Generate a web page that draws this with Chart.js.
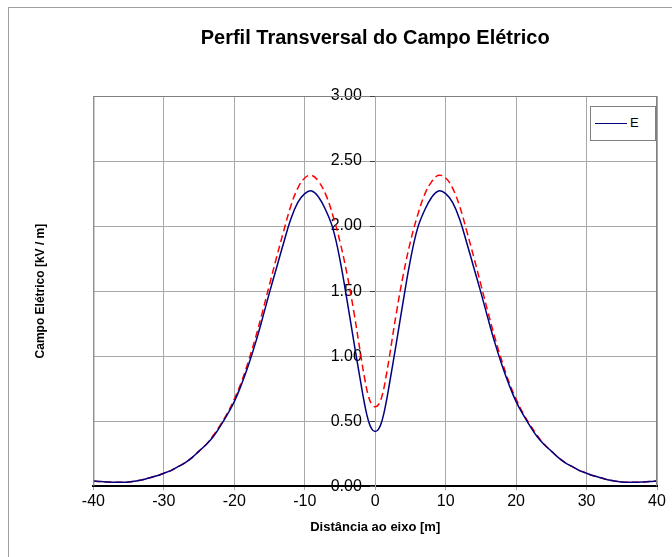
<!DOCTYPE html>
<html>
<head>
<meta charset="utf-8">
<script src="https://cdn.jsdelivr.net/npm/chart.js@4.4.0/dist/chart.umd.min.js"></script>
<style>
  html, body { margin: 0; padding: 0; background: #fff; }
  #wrap { width: 672px; height: 557px; position: relative; }
  #legend {
    position: absolute; left: 590px; top: 106px; width: 64px; height: 33px;
    border: 1px solid #808080; background: #fff;
    font: 13px 'Liberation Sans', Arial, sans-serif; color: #000;
  }
  #legend .swatch { position: absolute; left: 4px; top: 16px; width: 32px; height: 0; border-top: 1px solid #000080; }
  #legend .txt { position: absolute; left: 39px; top: 8px; }
</style>
</head>
<body>
<div id="wrap">
  <canvas id="chart"></canvas>
  <div id="legend"><span class="swatch"></span><span class="txt">E</span></div>
</div>
<script>
// Distance from the axis [m]
const distances = [
  -40, -39, -38, -37, -36, -35, -34, -33, -32, -31, -30, -29, -28, -27, -26, -25, -24, -23, -22, -21,
  -20, -19, -18, -17, -16, -15, -14, -13, -12, -11, -10, -9, -8, -7, -6, -5, -4, -3, -2,
  -1.5, -1, -0.5, 0, 0.5, 1, 1.5,
  2, 3, 4, 5, 6, 7, 8, 9, 10, 11, 12, 13, 14, 15, 16, 17, 18, 19, 20,
  21, 22, 23, 24, 25, 26, 27, 28, 29, 30, 31, 32, 33, 34, 35, 36, 37, 38, 39, 40
];

// Series E (solid blue) [kV/m]
const fieldE = [
  0.040, 0.037, 0.033, 0.030, 0.030, 0.032, 0.040, 0.050, 0.065, 0.080, 0.100, 0.120, 0.150, 0.180, 0.220, 0.270, 0.320, 0.380, 0.460, 0.550,
  0.650, 0.780, 0.930, 1.100, 1.290, 1.490, 1.680, 1.870, 2.050, 2.180, 2.250, 2.270, 2.220, 2.120, 1.980, 1.740, 1.430, 1.100, 0.780,
  0.630, 0.510, 0.440, 0.420, 0.440, 0.510, 0.630,
  0.780, 1.100, 1.430, 1.740, 1.980, 2.120, 2.220, 2.270, 2.250, 2.180, 2.050, 1.870, 1.680, 1.490, 1.290, 1.100, 0.930, 0.780, 0.650,
  0.550, 0.460, 0.380, 0.320, 0.270, 0.220, 0.180, 0.150, 0.120, 0.100, 0.080, 0.065, 0.050, 0.040, 0.032, 0.030, 0.030, 0.033, 0.037, 0.040
];

// Second profile (dashed red) [kV/m]
const fieldRed = [
  0.040, 0.037, 0.033, 0.030, 0.030, 0.032, 0.040, 0.050, 0.065, 0.080, 0.100, 0.120, 0.150, 0.180, 0.220, 0.270, 0.320, 0.390, 0.470, 0.560,
  0.670, 0.800, 0.960, 1.140, 1.340, 1.550, 1.760, 1.960, 2.150, 2.290, 2.370, 2.390, 2.340, 2.240, 2.080, 1.880, 1.630, 1.330, 0.990,
  0.830, 0.700, 0.630, 0.610, 0.630, 0.700, 0.830,
  0.990, 1.330, 1.630, 1.880, 2.080, 2.240, 2.340, 2.390, 2.370, 2.290, 2.150, 1.960, 1.760, 1.550, 1.340, 1.140, 0.960, 0.800, 0.670,
  0.560, 0.470, 0.390, 0.320, 0.270, 0.220, 0.180, 0.150, 0.120, 0.100, 0.080, 0.065, 0.050, 0.040, 0.032, 0.030, 0.030, 0.033, 0.037, 0.040
];

const xTicks = [-40, -30, -20, -10, 0, 10, 20, 30, 40];
const yTicks = [0, 0.5, 1, 1.5, 2, 2.5, 3];

const toPoints = (ys) => distances.map((x, i) => ({ x: x, y: ys[i] }));

// outer frame, plot border and the short y tick marks at x = 0
const framePlugin = {
  id: 'frame',
  beforeDraw(chart) {
    const ctx = chart.ctx;
    ctx.save();
    ctx.fillStyle = '#fff';
    ctx.fillRect(0, 0, chart.width, chart.height);
    ctx.strokeStyle = '#a0a0a0';
    ctx.lineWidth = 1;
    ctx.strokeRect(8.5, 7.5, 800, 700);
    ctx.restore();
  },
  afterDraw(chart) {
    const ctx = chart.ctx;
    const a = chart.chartArea;
    const xs = chart.scales.x;
    const ys = chart.scales.y;
    ctx.save();
    ctx.strokeStyle = '#808080';
    ctx.lineWidth = 1;
    ctx.beginPath();
    ctx.moveTo(a.left + 0.5, a.bottom);
    ctx.lineTo(a.left + 0.5, a.top + 0.5);
    ctx.lineTo(a.right - 0.5, a.top + 0.5);
    ctx.lineTo(a.right - 0.5, a.bottom);
    ctx.stroke();
    const x0 = Math.round(xs.getPixelForValue(0));
    ctx.strokeStyle = '#404040';
    ctx.beginPath();
    yTicks.forEach(v => {
      const py = Math.round(ys.getPixelForValue(v)) + 0.5;
      ctx.moveTo(x0 - 5, py);
      ctx.lineTo(x0, py);
    });
    ctx.stroke();
    ctx.restore();
  }
};

new Chart(document.getElementById('chart'), {
  type: 'line',
  data: {
    datasets: [
      {
        label: 'E',
        data: toPoints(fieldE),
        borderColor: '#000080',
        borderWidth: 1.5,
        pointRadius: 0,
        tension: 0.4,
        order: 1
      },
      {
        label: 'E2',
        data: toPoints(fieldRed),
        borderColor: '#ff0000',
        borderWidth: 1.5,
        borderDash: [7, 4],
        pointRadius: 0,
        tension: 0.4,
        order: 2
      }
    ]
  },
  options: {
    responsive: true,
    maintainAspectRatio: false,
    animation: false,
    layout: { padding: { left: 33, right: 15, top: 10, bottom: 22 } },
    plugins: {
      title: {
        display: true,
        text: 'Perfil Transversal do Campo Elétrico',
        fullSize: false,
        color: '#000',
        font: { family: 'Liberation Sans, Arial, sans-serif', size: 20, weight: 'bold' },
        padding: { top: 16, bottom: 46 }
      },
      legend: { display: false },
      tooltip: { enabled: false }
    },
    scales: {
      x: {
        type: 'linear',
        min: -40,
        max: 40,
        afterBuildTicks: (s) => { s.ticks = xTicks.map(v => ({ value: v })); },
        ticks: {
          color: '#000',
          font: { family: 'Liberation Sans, Arial, sans-serif', size: 16 },
          padding: 2,
          maxRotation: 0
        },
        grid: { color: '#a8a8a8', lineWidth: 1, tickLength: 4, drawTicks: true },
        border: { display: true, color: '#000', width: 2 },
        title: {
          display: true,
          text: 'Distância ao eixo [m]',
          color: '#000',
          font: { family: 'Liberation Sans, Arial, sans-serif', size: 13, weight: 'bold' },
          padding: { top: 6, bottom: 0 }
        }
      },
      y: {
        type: 'linear',
        min: 0,
        max: 3,
        position: { x: 0 },
        afterBuildTicks: (s) => { s.ticks = yTicks.map(v => ({ value: v })); },
        ticks: {
          color: '#000',
          font: { family: 'Liberation Sans, Arial, sans-serif', size: 16 },
          // labels sit right-aligned on the x = 0 line; trailing spaces keep the gap
          callback: (v) => v.toFixed(2) + '   '
        },
        grid: { color: '#a8a8a8', lineWidth: 1, drawTicks: false },
        border: { display: true, color: '#a8a8a8', width: 1 }
      },
      yTitle: {
        type: 'linear',
        position: 'left',
        display: true,
        ticks: { display: false },
        grid: { display: false, drawTicks: false },
        border: { display: false },
        title: {
          display: true,
          text: 'Campo Elétrico [kV / m]',
          color: '#000',
          font: { family: 'Liberation Sans, Arial, sans-serif', size: 12, weight: 'bold' },
          padding: { top: 0, bottom: 46 }
        }
      }
    }
  },
  plugins: [framePlugin]
});
</script>
</body>
</html>
